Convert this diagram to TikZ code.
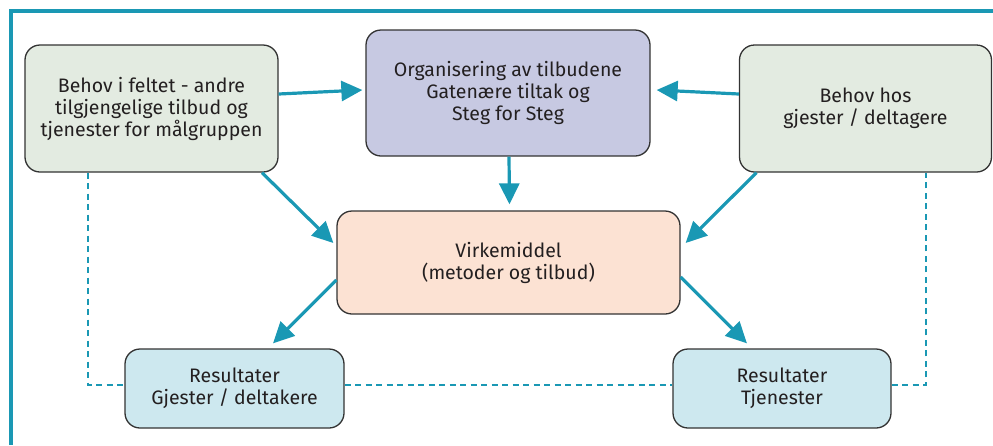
\documentclass[tikz,border=0pt]{standalone}
\usepackage{fontspec}
\setmainfont{Fira Sans}
\usetikzlibrary{arrows.meta}
\definecolor{teal1}{HTML}{1A98B4}
\definecolor{txt}{HTML}{231F20}
\definecolor{greenbox}{HTML}{E3EBE1}
\definecolor{purplebox}{HTML}{C7C9E2}
\definecolor{peachbox}{HTML}{FCE2D3}
\definecolor{bluebox}{HTML}{CDE8EF}
\definecolor{edge}{HTML}{333333}
\tikzset{
  x=1pt, y=-1pt,
  box/.style={draw=edge, line width=1.3pt, rounded corners=15pt, align=center,
    text=txt, font=\fontsize{19.5}{22}\selectfont, inner sep=0pt},
  arr/.style={draw=teal1, line width=3.2pt, -{Triangle[length=21pt,width=20pt]}},
  dline/.style={draw=teal1, line width=2.8pt, dash pattern=on 6pt off 4.5pt},
}
\begin{document}
\begin{tikzpicture}
\useasboundingbox (0,0) rectangle (993,445);
% frame
\draw[teal1, line width=3.5pt] (11,445) -- (11,11) -- (993,11);
% boxes
\node[box, fill=greenbox, minimum width=253pt, minimum height=127pt] (A) at (151.5,108.5)
  {Behov i feltet - andre\\tilgjengelige tilbud og\\tjenester for målgruppen};
\node[box, fill=purplebox, minimum width=284pt, minimum height=126pt] (B) at (508,93)
  {Organisering av tilbudene\\Gatenære tiltak og\\Steg for Steg};
\node[box, fill=greenbox, minimum width=252pt, minimum height=127pt] (C) at (865.5,108.5)
  {Behov hos\\gjester / deltagere};
\node[box, fill=peachbox, minimum width=343pt, minimum height=103pt] (D) at (508.5,262.5)
  {Virkemiddel\\(metoder og tilbud)};
\node[box, fill=bluebox, minimum width=219pt, minimum height=79pt] (E) at (234.5,388.5)
  {Resultater\\Gjester / deltakere};
\node[box, fill=bluebox, minimum width=218pt, minimum height=79pt] (F) at (782,388.5)
  {Resultater\\Tjenester};
% dashed links
\draw[dline] ([xshift=-63.5pt]A.south) |- ([yshift=3.5pt]E.west);
\draw[dline] ([yshift=3.5pt]E.east) -- ([yshift=3.5pt]F.west);
\draw[dline] ([yshift=3.5pt]F.east) -| ([xshift=60.5pt]C.south);
% arrows
\draw[arr] ([yshift=14.5pt]A.east) -- ([xshift=-3pt,yshift=3pt]B.west);
\draw[arr] ([yshift=14.5pt]C.west) -- ([xshift=6pt,yshift=3pt]B.east);
\draw[arr] ([xshift=1pt]B.south) -- ([xshift=1pt,yshift=6pt]D.north);
\draw[arr] ([xshift=110.5pt]A.south) -- ([xshift=-3pt,yshift=19.5pt]D.west);
\draw[arr] ([xshift=-109pt]C.south) -- ([xshift=5pt,yshift=19.5pt]D.east);
\draw[arr] ([yshift=-17.5pt]D.west) -- ([xshift=38.5pt,yshift=5pt]E.north);
\draw[arr] ([yshift=-14.5pt]D.east) -- ([xshift=-35pt,yshift=5pt]F.north);
\end{tikzpicture}
\end{document}
